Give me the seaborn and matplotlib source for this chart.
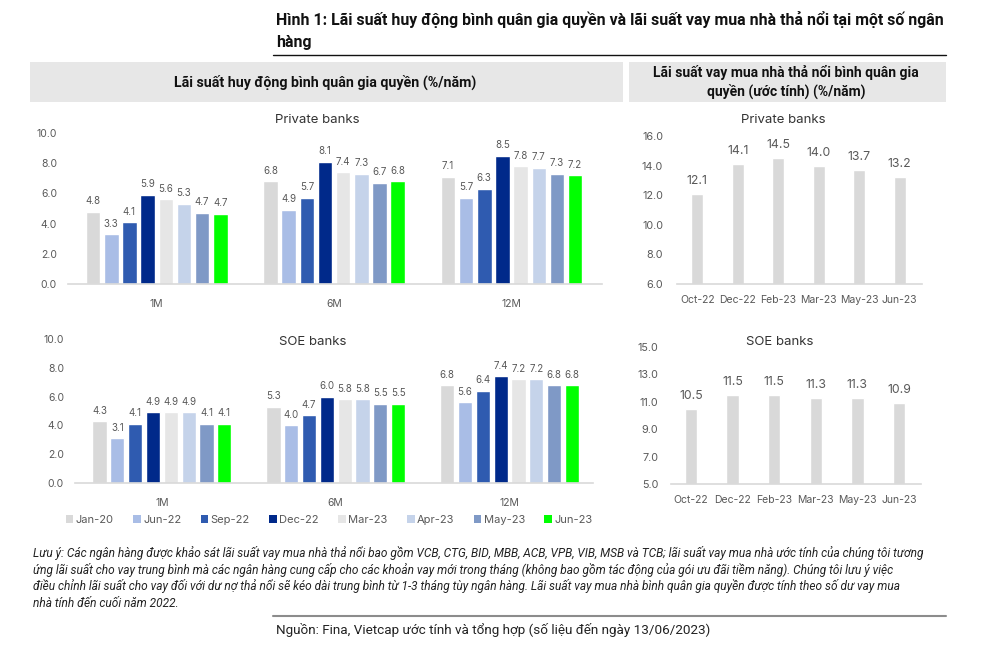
import numpy as np
import pandas as pd
import matplotlib
matplotlib.use("Agg")
import matplotlib.pyplot as plt
import seaborn as sns
from matplotlib.patches import Rectangle, Patch
from matplotlib.lines import Line2D

sns.set_theme(style="white")
plt.rcParams['font.family'] = ['Inter', 'DejaVu Sans']

# ---------------- data ----------------
terms = ['1M', '6M', '12M']
periods = ['Jan-20', 'Jun-22', 'Sep-22', 'Dec-22', 'Mar-23', 'Apr-23', 'May-23', 'Jun-23']
period_colors = ['#d9d9d9', '#a9bde6', '#2f5bb0', '#00298a', '#e6e6e6', '#c5d3ea', '#7f99c6', '#00ff00']

private_1m = [4.8, 3.3, 4.1, 5.9, 5.6, 5.3, 4.7, 4.65]
private_6m = [6.8, 4.9, 5.7, 8.1, 7.4, 7.3, 6.7, 6.8]
private_12m = [7.1, 5.7, 6.3, 8.5, 7.8, 7.7, 7.3, 7.2]

soe_1m = [4.3, 3.1, 4.1, 4.9, 4.9, 4.9, 4.1, 4.1]
soe_6m = [5.3, 4.0, 4.7, 6.0, 5.8, 5.8, 5.5, 5.5]
soe_12m = [6.8, 5.6, 6.4, 7.4, 7.2, 7.2, 6.8, 6.8]

mortgage_months = ['Oct-22', 'Dec-22', 'Feb-23', 'Mar-23', 'May-23', 'Jun-23']
mortgage_private = [12.1, 14.1, 14.5, 14.0, 13.7, 13.2]
mortgage_soe = [10.5, 11.5, 11.5, 11.3, 11.3, 10.9]

TXT = '#595959'
GRID = '#d9d9d9'


def long_df(series_by_term):
    rows = []
    for term, vals in zip(terms, series_by_term):
        for p, v in zip(periods, vals):
            rows.append({'term': term, 'period': p, 'value': v})
    return pd.DataFrame(rows)


def style_axes(ax, fs=7.5):
    sns.despine(ax=ax, left=True)
    ax.spines['bottom'].set_color(GRID)
    ax.spines['bottom'].set_linewidth(1.2)
    ax.tick_params(axis='both', length=0, colors=TXT, labelsize=fs)
    ax.set_xlabel('')
    ax.set_ylabel('')
    ax.grid(False)


fig = plt.figure(figsize=(10, 6.51), dpi=100)
W, H = 1000, 651


def rect(x0, y0, x1, y1):
    return [x0 / W, 1 - y1 / H, (x1 - x0) / W, (y1 - y0) / H]


SANS = ['Roboto', 'DejaVu Sans']

# ---------- header ----------
fig.text(276 / W, 1 - 20 / H, 'Hình 1: Lãi suất huy động bình quân gia quyền và lãi suất vay mua nhà thả nổi tại một số ngân',
         fontsize=11.4, fontweight='bold', family=SANS, va='center', ha='left', color='#111111')
fig.text(276 / W, 1 - 42 / H, 'hàng', fontsize=11.4, fontweight='bold', family=SANS,
         va='center', ha='left', color='#111111')
fig.add_artist(Line2D([273 / W, 946 / W], [1 - 55 / H, 1 - 55 / H], color='#111111', lw=1))

fig.add_artist(Rectangle((30 / W, 1 - 102 / H), (623 - 30) / W, 40 / H, color='#e7e7e7', lw=0))
fig.add_artist(Rectangle((629 / W, 1 - 102 / H), (946 - 629) / W, 40 / H, color='#e7e7e7', lw=0))
fig.text(325 / W, 1 - 82 / H, 'Lãi suất huy động bình quân gia quyền (%/năm)', fontsize=10.2,
         fontweight='semibold', family=SANS, ha='center', va='center', color='#111111')
fig.text(786 / W, 1 - 72 / H, 'Lãi suất vay mua nhà thả nổi bình quân gia', fontsize=10,
         fontweight='semibold', family=SANS, ha='center', va='center', color='#111111')
fig.text(786 / W, 1 - 91 / H, 'quyền (ước tính) (%/năm)', fontsize=10,
         fontweight='semibold', family=SANS, ha='center', va='center', color='#111111')


# ---------- deposit charts ----------
def deposit_chart(pos, df, title, title_xy, xlim):
    ax = fig.add_axes(pos)
    sns.barplot(data=df, x='term', y='value', hue='period', hue_order=periods, order=terms,
                palette=period_colors, width=0.82, gap=0.2, ax=ax, legend=False, saturation=1)
    for c in ax.containers:
        ax.bar_label(c, fmt='%.1f', padding=4, fontsize=7, color=TXT)
    ax.set_ylim(0, 10)
    ax.set_yticks(np.arange(0, 10.1, 2))
    ax.set_yticklabels([f'{v:.1f}' for v in np.arange(0, 10.1, 2)])
    ax.set_xlim(*xlim)
    style_axes(ax)
    ax.tick_params(axis='x', pad=11)
    ax.tick_params(axis='y', pad=8)
    fig.text(title_xy[0] / W, 1 - title_xy[1] / H, title, fontsize=9.5, color='#333333', ha='center', va='center')
    return ax


deposit_chart(rect(68, 133, 602, 284), long_df([private_1m, private_6m, private_12m]),
              'Private banks', (317, 120), (-0.5, 2.51))
deposit_chart(rect(75, 339, 593, 483), long_df([soe_1m, soe_6m, soe_12m]),
              'SOE banks', (313, 342), (-0.5, 2.48))

handles = [Patch(facecolor=c, edgecolor='none') for c in period_colors]
fig.legend(handles, periods, loc='center', bbox_to_anchor=(329 / W, 1 - 520 / H), ncol=8, frameon=False,
           fontsize=8, handlelength=0.7, handleheight=0.7, handletextpad=0.2, columnspacing=1.75,
           labelcolor=TXT)


# ---------- mortgage charts ----------
def mortgage_chart(pos, vals, title, title_xy, ylo, yhi, step, xlim, ypad):
    ax = fig.add_axes(pos)
    df = pd.DataFrame({'month': mortgage_months, 'value': vals})
    sns.barplot(data=df, x='month', y='value', color='#d9d9d9', saturation=1, width=0.3, ax=ax)
    for c in ax.containers:
        ax.bar_label(c, fmt='%.1f', padding=5, fontsize=8.8, color=TXT)
    ax.set_ylim(ylo, yhi)
    ticks = np.arange(ylo, yhi + 0.01, step)
    ax.set_yticks(ticks)
    ax.set_yticklabels([f'{v:.1f}' for v in ticks])
    ax.set_xlim(*xlim)
    style_axes(ax, fs=7.8)
    ax.tick_params(axis='x', pad=8, labelsize=7.5)
    ax.tick_params(axis='y', pad=ypad)
    fig.text(title_xy[0] / W, 1 - title_xy[1] / H, title, fontsize=9.5, color='#333333', ha='center', va='center')
    return ax


mortgage_chart(rect(677, 136, 922, 284), mortgage_private, 'Private banks', (783, 120), 6, 16, 2, (-0.5, 5.55), 10)
mortgage_chart(rect(671, 347, 921, 484), mortgage_soe, 'SOE banks', (780, 342), 5, 15, 2, (-0.48, 5.53), 9)

# ---------- footnote ----------
note_lines = [
    'Lưu ý: Các ngân hàng được khảo sát lãi suất vay mua nhà thả nổi bao gồm VCB, CTG, BID, MBB, ACB, VPB, VIB, MSB và TCB; lãi suất vay mua nhà ước tính của chúng tôi tương',
    'ứng lãi suất cho vay trung bình mà các ngân hàng cung cấp cho các khoản vay mới trong tháng (không bao gồm tác động của gói ưu đãi tiềm năng). Chúng tôi lưu ý việc',
    'điều chỉnh lãi suất cho vay đối với dư nợ thả nổi sẽ kéo dài trung bình từ 1-3 tháng tùy ngân hàng. Lãi suất vay mua nhà bình quân gia quyền được tính theo số dư vay mua',
    'nhà tính đến cuối năm 2022.',
]
for i, line in enumerate(note_lines):
    fig.text(33 / W, 1 - (553 + 16.7 * i) / H, line, fontsize=8.6, style='italic',
             family=SANS, ha='left', va='center', color='#222222')

fig.add_artist(Line2D([273 / W, 946 / W], [1 - 616 / H, 1 - 616 / H], color='#8c8c8c', lw=1.5))
fig.text(276 / W, 1 - 630 / H, 'Nguồn: Fina, Vietcap ước tính và tổng hợp (số liệu đến ngày 13/06/2023)',
         fontsize=9.7, family=SANS, ha='left', va='center', color='#222222')

fig.savefig('out.png', dpi=100, facecolor='white')
